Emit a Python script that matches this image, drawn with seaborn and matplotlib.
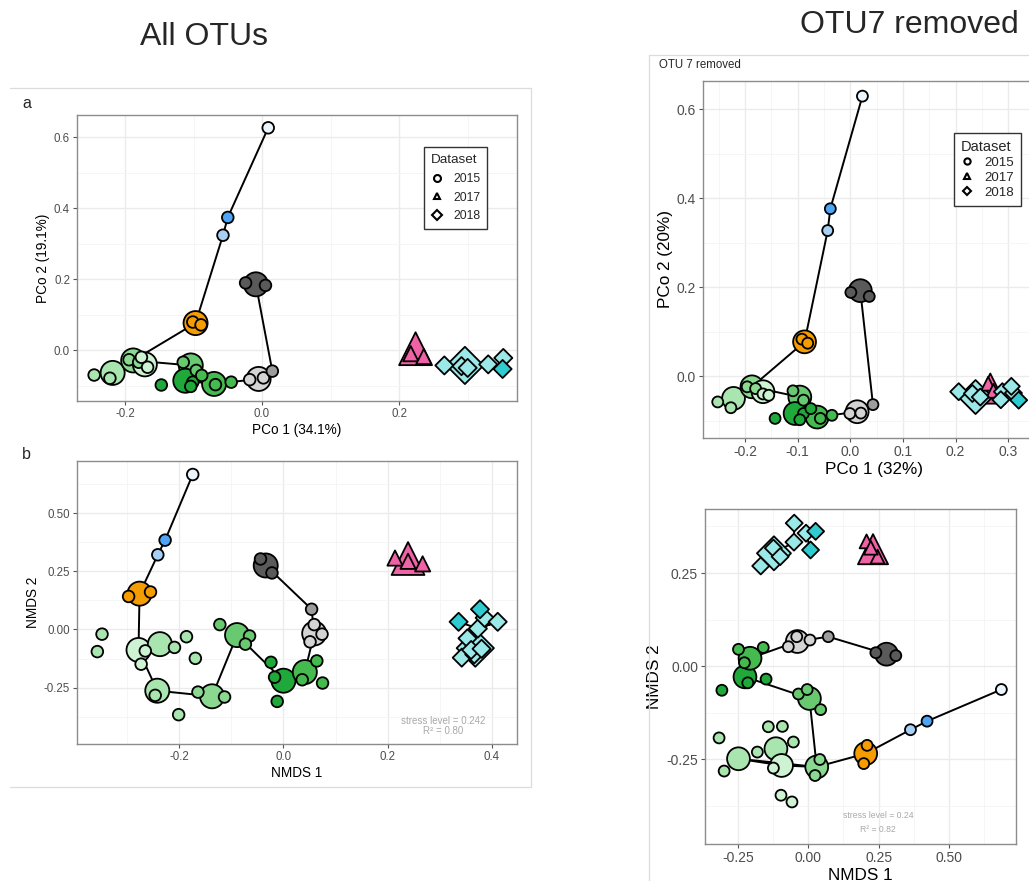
import numpy as np
import pandas as pd
import matplotlib
matplotlib.use("Agg")
import matplotlib.pyplot as plt
from matplotlib.lines import Line2D
from matplotlib.ticker import MultipleLocator, FormatStrFormatter
import seaborn as sns

W, H = 1029, 881

# colour for each sampling group (T = early times, G = greens, K = greys, P = 2017, C = 2018)
group_colors = {
    "T1": "#EAF5FD", "T2": "#4EA5F7", "T3": "#A7D0F5", "T4": "#F59D00",
    "G1": "#CDF3D2", "G2": "#A9E5AE", "G3": "#8BD891", "G4": "#69C970",
    "G5": "#44BA4F", "G6": "#1FA93A",
    "K1": "#D4D4D4", "K2": "#9C9C9C", "K3": "#5A5A5A",
    "P": "#F062A6", "C1": "#9BE8E8", "C2": "#2FCBD0",
}
dataset_levels = ["2015", "2017", "2018"]
dataset_markers = {"2015": "o", "2017": "^", "2018": "D"}

# ---------------- a: PCoA, all OTUs ----------------
a_grp = ["T1", "T2", "T3",
         "T4", "T4", "T4",
         "K3", "K3", "K3",
         "K1", "K1", "K1", "K2",
         "G2", "G2", "G2",
         "G3", "G3", "G3",
         "G1", "G1", "G1",
         "G4", "G4", "G4",
         "G6", "G6", "G6", "G6",
         "G5", "G5", "G5", "G5",
         "P", "P", "P",
         "C1", "C1", "C1", "C1", "C1", "C1", "C2"]
a_big = [0, 0, 0,
         1, 0, 0,
         1, 0, 0,
         1, 0, 0, 0,
         1, 0, 0,
         1, 0, 0,
         1, 0, 0,
         1, 0, 0,
         1, 0, 0, 0,
         1, 0, 0, 0,
         1, 0, 0,
         1, 0, 0, 0, 0, 0, 0]
a_x = [0.009, -0.050, -0.057,
       -0.097, -0.101, -0.089,
       -0.009, -0.024, 0.005,
       -0.005, -0.018, 0.002, 0.015,
       -0.218, -0.245, -0.222,
       -0.188, -0.194, -0.180,
       -0.171, -0.167, -0.176,
       -0.104, -0.115, -0.096,
       -0.112, -0.147, -0.101, -0.104,
       -0.070, -0.068, -0.045, -0.088,
       0.224, 0.217, 0.236,
       0.296, 0.266, 0.291, 0.300, 0.330, 0.352, 0.351]
a_y = [0.626, 0.374, 0.324,
       0.077, 0.080, 0.072,
       0.186, 0.190, 0.183,
       -0.080, -0.082, -0.077, -0.058,
       -0.063, -0.069, -0.078,
       -0.028, -0.026, -0.033,
       -0.039, -0.047, -0.019,
       -0.042, -0.033, -0.056,
       -0.085, -0.097, -0.089, -0.101,
       -0.094, -0.096, -0.089, -0.070,
       0.005, -0.009, -0.017,
       -0.042, -0.042, -0.044, -0.049, -0.039, -0.021, -0.052]
a_path_x = [0.009, -0.050, -0.057, -0.097, -0.188, -0.104, -0.112, -0.070, -0.005, 0.015, -0.009]
a_path_y = [0.626, 0.374, 0.324, 0.077, -0.028, -0.042, -0.085, -0.094, -0.080, -0.058, 0.186]
a_path_id = [0] * 11

# ---------------- b: NMDS, all OTUs ----------------
b_grp = ["T1", "T2", "T3",
         "T4", "T4", "T4",
         "K3", "K3", "K3",
         "K2",
         "K1", "K1", "K1", "K1",
         "G1", "G1", "G1",
         "G2", "G2", "G2", "G2", "G2", "G2",
         "G2", "G2", "G2",
         "G3", "G3", "G3",
         "G4", "G4", "G4", "G4",
         "G6", "G6", "G6", "G6",
         "G5", "G5", "G5", "G5",
         "P", "P", "P", "P",
         "C1", "C1", "C1", "C1", "C1", "C1", "C1", "C1", "C1",
         "C2", "C2"]
b_big = [0, 0, 0,
         1, 0, 0,
         1, 0, 0,
         0,
         1, 0, 0, 0,
         1, 0, 0,
         1, 0, 0, 0, 0, 0,
         1, 0, 0,
         1, 0, 0,
         1, 0, 0, 0,
         1, 0, 0, 0,
         1, 0, 0, 0,
         1, 0, 0, 0,
         1, 0, 0, 0, 0, 0, 0, 0, 0,
         0, 0]
b_x = [-0.174, -0.227, -0.241,
       -0.276, -0.297, -0.255,
       -0.034, -0.044, -0.022,
       0.054,
       0.059, 0.059, 0.074, 0.051,
       -0.278, -0.265, -0.273,
       -0.237, -0.209, -0.348, -0.357, -0.186, -0.169,
       -0.242, -0.246, -0.201,
       -0.137, -0.164, -0.113,
       -0.089, -0.122, -0.065, -0.073,
       0.000, -0.024, -0.017, -0.012,
       0.041, 0.064, 0.036, 0.075,
       0.239, 0.214, 0.267, 0.239,
       0.368, 0.342, 0.366, 0.373, 0.386, 0.411, 0.353, 0.360, 0.380,
       0.377, 0.336]
b_y = [0.666, 0.384, 0.321,
       0.154, 0.142, 0.161,
       0.275, 0.303, 0.243,
       0.087,
       -0.017, 0.021, -0.020, -0.053,
       -0.088, -0.092, -0.149,
       -0.063, -0.077, -0.020, -0.095, -0.031, -0.124,
       -0.263, -0.283, -0.366,
       -0.287, -0.269, -0.290,
       -0.024, 0.021, -0.028, -0.063,
       -0.220, -0.141, -0.205, -0.309,
       -0.183, -0.135, -0.216, -0.230,
       0.305, 0.307, 0.282, 0.293,
       -0.080, -0.121, -0.107, 0.004, 0.050, 0.033, -0.038, -0.088, -0.083,
       0.087, 0.033]
b_path_x = [-0.174, -0.227, -0.241, -0.276, -0.278, -0.242, -0.137, -0.089, 0.000, 0.041, 0.059, 0.054, -0.034,
            0.336, 0.373, 0.411, 0.373, 0.368]
b_path_y = [0.666, 0.384, 0.321, 0.154, -0.088, -0.263, -0.287, -0.024, -0.220, -0.183, -0.017, 0.087, 0.275,
            0.033, 0.004, 0.033, 0.004, -0.080]
b_path_id = [0] * 13 + [1] * 5

# ---------------- c: PCoA, OTU 7 removed ----------------
c_grp = ["T1", "T2", "T3",
         "T4", "T4", "T4",
         "K3", "K3", "K3",
         "K2",
         "K1", "K1", "K1",
         "G2", "G2", "G2",
         "G3", "G3", "G3",
         "G1", "G1", "G1",
         "G4", "G4", "G4",
         "G6", "G6", "G6", "G6", "G6",
         "G5", "G5", "G5",
         "P", "P", "P",
         "C1", "C1", "C1", "C1", "C1", "C1", "C1", "C1",
         "C2"]
c_big = [0, 0, 0,
         1, 0, 0,
         1, 0, 0,
         0,
         1, 0, 0,
         1, 0, 0,
         1, 0, 0,
         1, 0, 0,
         1, 0, 0,
         1, 0, 0, 0, 0,
         1, 0, 0,
         1, 0, 0,
         1, 0, 0, 0, 0, 0, 0, 0,
         0]
c_x = [0.023, -0.038, -0.043,
       -0.087, -0.092, -0.081,
       0.019, 0.001, 0.036,
       0.043,
       0.013, -0.001, 0.020,
       -0.222, -0.252, -0.227,
       -0.187, -0.196, -0.180,
       -0.166, -0.166, -0.155,
       -0.096, -0.109, -0.089,
       -0.105, -0.143, -0.089, -0.075, -0.096,
       -0.063, -0.057, -0.035,
       0.266, 0.262, 0.272,
       0.238, 0.206, 0.232, 0.247, 0.289, 0.286, 0.310, 0.306,
       0.320]
c_y = [0.629, 0.376, 0.327,
       0.077, 0.083, 0.074,
       0.192, 0.188, 0.179,
       -0.064,
       -0.080, -0.084, -0.083,
       -0.050, -0.058, -0.071,
       -0.024, -0.024, -0.028,
       -0.035, -0.040, -0.043,
       -0.047, -0.033, -0.054,
       -0.084, -0.095, -0.084, -0.073, -0.098,
       -0.092, -0.095, -0.088,
       -0.028, -0.017, -0.033,
       -0.047, -0.035, -0.039, -0.047, -0.035, -0.053, -0.038, -0.023,
       -0.054]
c_path_x = [0.023, -0.038, -0.043, -0.087, -0.187, -0.096, -0.105, -0.063, 0.013, 0.043, 0.019]
c_path_y = [0.629, 0.376, 0.327, 0.077, -0.024, -0.047, -0.084, -0.092, -0.080, -0.064, 0.192]
c_path_id = [0] * 11

# ---------------- d: NMDS, OTU 7 removed ----------------
d_grp = ["T1", "T2", "T3",
         "T4", "T4", "T4",
         "K3", "K3", "K3",
         "K2",
         "K1", "K1", "K1", "K1",
         "G6", "G6", "G6", "G6",
         "G5", "G5", "G5", "G5",
         "G4", "G4", "G4", "G4",
         "G3", "G3", "G3",
         "G2", "G2", "G2",
         "G2", "G2", "G2", "G2", "G2",
         "G1", "G1", "G1", "G1",
         "P", "P", "P", "P",
         "C1", "C1", "C1", "C1", "C1", "C1", "C1",
         "C2", "C2"]
d_big = [0, 0, 0,
         1, 0, 0,
         1, 0, 0,
         0,
         1, 0, 0, 0,
         1, 0, 0, 0,
         1, 0, 0, 0,
         1, 0, 0, 0,
         1, 0, 0,
         1, 0, 0,
         1, 0, 0, 0, 0,
         1, 0, 0, 0,
         1, 0, 0, 0,
         1, 0, 0, 0, 0, 0, 0,
         0, 0]
d_x = [0.686, 0.422, 0.363,
       0.204, 0.209, 0.197,
       0.278, 0.240, 0.311,
       0.071,
       -0.039, -0.071, 0.006, -0.041,
       -0.225, -0.307, -0.215, -0.150,
       -0.207, -0.248, -0.160, -0.227,
       0.004, -0.035, -0.004, 0.044,
       0.030, 0.041, 0.024,
       -0.248, -0.299, -0.181,
       -0.115, -0.142, -0.092, -0.053, -0.317,
       -0.095, -0.124, -0.097, -0.058,
       0.230, 0.207, 0.246, 0.222,
       -0.122, -0.169, -0.124, -0.100, -0.051, -0.050, -0.008,
       0.026, 0.008]
d_y = [-0.063, -0.148, -0.171,
       -0.235, -0.213, -0.262,
       0.032, 0.036, 0.028,
       0.079,
       0.066, 0.052, 0.070, 0.079,
       -0.029, -0.065, -0.045, -0.035,
       0.021, 0.045, 0.050, 0.009,
       -0.087, -0.075, -0.063, -0.117,
       -0.271, -0.251, -0.294,
       -0.249, -0.282, -0.231,
       -0.222, -0.163, -0.162, -0.204, -0.193,
       -0.267, -0.274, -0.347, -0.365,
       0.314, 0.335, 0.294, 0.318,
       0.303, 0.269, 0.317, 0.294, 0.333, 0.384, 0.357,
       0.362, 0.312]
d_path_x = [0.686, 0.422, 0.363, 0.204, 0.030, -0.095, -0.248, 0.030, 0.004, -0.225, -0.207, -0.039, 0.071, 0.278,
            -0.169, -0.122, -0.051, -0.050,
            0.008, -0.008, 0.026]
d_path_y = [-0.063, -0.148, -0.171, -0.235, -0.271, -0.267, -0.249, -0.271, -0.087, -0.029, 0.021, 0.066, 0.079, 0.032,
            0.269, 0.303, 0.333, 0.384,
            0.312, 0.357, 0.362]
d_path_id = [0] * 14 + [1] * 4 + [2] * 3

sns.set_theme(style="white")
plt.rcParams["font.family"] = ["Liberation Sans", "DejaVu Sans"]


def box(x0, y0, x1, y1):
    return [x0 / W, 1 - y1 / H, (x1 - x0) / W, (y1 - y0) / H]


def draw_points(ax, xs, ys, grps, bigs, px, py, pid, sizes):
    df = pd.DataFrame({"x": xs, "y": ys, "grp": grps, "big": bigs})
    df["Dataset"] = df["grp"].map(lambda g: "2017" if g == "P" else ("2018" if g.startswith("C") else "2015"))
    df["kind"] = np.where(df["big"] == 1, "L", "S") + df["Dataset"]
    df = df.sort_values("big", ascending=False, kind="stable")
    path = pd.DataFrame({"x": px, "y": py, "id": pid})
    sns.lineplot(data=path, x="x", y="y", units="id", estimator=None, sort=False,
                 color="black", linewidth=1.4, legend=False, ax=ax, zorder=2)
    sns.scatterplot(data=df, x="x", y="y", hue="grp", palette=group_colors,
                    style="Dataset", markers=dataset_markers, size="kind", sizes=sizes,
                    edgecolor="black", linewidth=1.3, legend=False, ax=ax, zorder=3)


def style_axes(ax, xlim, ylim, xmaj, ymaj, fmtx, fmty, xlabel, ylabel, tick_fs, lab_fs):
    ax.set_xlim(xlim)
    ax.set_ylim(ylim)
    ax.xaxis.set_major_locator(MultipleLocator(xmaj))
    ax.xaxis.set_minor_locator(MultipleLocator(xmaj / 2))
    ax.yaxis.set_major_locator(MultipleLocator(ymaj))
    ax.yaxis.set_minor_locator(MultipleLocator(ymaj / 2))
    ax.xaxis.set_major_formatter(FormatStrFormatter(fmtx))
    ax.yaxis.set_major_formatter(FormatStrFormatter(fmty))
    ax.grid(which="major", color="#EBEBEB", linewidth=1.0)
    ax.grid(which="minor", color="#F4F4F4", linewidth=0.6)
    ax.set_axisbelow(True)
    for s in ax.spines.values():
        s.set_color("#8C8C8C")
        s.set_linewidth(1.0)
    ax.tick_params(which="major", length=3, width=0.8, color="#555555",
                   labelsize=tick_fs, labelcolor="#4D4D4D", pad=2, bottom=True, left=True)
    ax.tick_params(which="minor", length=0)
    ax.set_xlabel(xlabel, fontsize=lab_fs, color="black", labelpad=2)
    ax.set_ylabel(ylabel, fontsize=lab_fs, color="black", labelpad=3)


def add_legend(ax, anchor, fs, ms, spacing, pad):
    handles = [Line2D([], [], marker=dataset_markers[d], linestyle="", markerfacecolor="white",
                      markeredgecolor="black", markeredgewidth=1.5, markersize=ms)
               for d in dataset_levels]
    leg = ax.legend(handles, dataset_levels, title="Dataset", loc="upper left",
                    bbox_to_anchor=anchor, bbox_transform=ax.figure.transFigure,
                    fontsize=fs, title_fontsize=fs + 1, frameon=True, fancybox=False,
                    edgecolor="#333333", framealpha=1, handlelength=1.0, handletextpad=0.8,
                    labelspacing=spacing, borderpad=pad, borderaxespad=0)
    leg.get_frame().set_linewidth(1.0)
    leg._legend_box.align = "left"


fig = plt.figure(figsize=(W / 100, H / 100), dpi=100)

left_sizes = {"L2015": 300, "S2015": 70, "L2017": 560, "S2017": 120, "L2018": 360, "S2018": 85}
right_sizes = {"L2015": 270, "S2015": 62, "L2017": 470, "S2017": 100, "L2018": 300, "S2018": 75}

ax_a = fig.add_axes(box(77, 115, 517, 401))
draw_points(ax_a, a_x, a_y, a_grp, a_big, a_path_x, a_path_y, a_path_id, left_sizes)
style_axes(ax_a, (-0.27, 0.372), (-0.142, 0.662), 0.2, 0.2, "%.1f", "%.1f",
           "PCo 1 (34.1%)", "PCo 2 (19.1%)", 8.3, 9.8)
add_legend(ax_a, (424 / W, 1 - 147 / H), 8.7, 5, 0.55, 0.6)

ax_b = fig.add_axes(box(77, 461, 517, 744))
draw_points(ax_b, b_x, b_y, b_grp, b_big, b_path_x, b_path_y, b_path_id, left_sizes)
style_axes(ax_b, (-0.396, 0.448), (-0.492, 0.724), 0.2, 0.25, "%.1f", "%.2f",
           "NMDS 1", "NMDS 2", 8.3, 9.8)

ax_c = fig.add_axes(box(703, 81, 1045, 438))
draw_points(ax_c, c_x, c_y, c_grp, c_big, c_path_x, c_path_y, c_path_id, right_sizes)
style_axes(ax_c, (-0.280, 0.370), (-0.139, 0.663), 0.1, 0.2, "%.1f", "%.1f",
           "PCo 1 (32%)", "PCo 2 (20%)", 10, 12.3)
add_legend(ax_c, (954 / W, 1 - 133 / H), 9.5, 4.5, 0.22, 0.5)

ax_d = fig.add_axes(box(705, 509, 1016, 844))
draw_points(ax_d, d_x, d_y, d_grp, d_big, d_path_x, d_path_y, d_path_id, right_sizes)
style_axes(ax_d, (-0.367, 0.738), (-0.478, 0.422), 0.25, 0.25, "%.2f", "%.2f",
           "NMDS 1", "NMDS 2", 10, 12.3)

# stress annotations
fig.text(443 / W, 1 - 721 / H, "stress level = 0.242", ha="center", va="center", fontsize=7, color="#A8A8A8")
fig.text(443 / W, 1 - 731 / H, "R² = 0.80", ha="center", va="center", fontsize=7, color="#A8A8A8")
fig.text(878 / W, 1 - 815 / H, "stress level = 0.24", ha="center", va="center", fontsize=6.2, color="#A8A8A8")
fig.text(878 / W, 1 - 830 / H, "R² = 0.82", ha="center", va="center", fontsize=6.2, color="#A8A8A8")

# titles and panel tags
fig.text(204 / W, 1 - 37 / H, "All OTUs", ha="center", va="center", fontsize=23)
fig.text(909 / W, 1 - 25 / H, "OTU7 removed", ha="center", va="center", fontsize=23)
fig.text(659 / W, 1 - 65 / H, "OTU 7 removed", ha="left", va="center", fontsize=8.3)
fig.text(22 / W, 1 - 103 / H, "a", ha="left", va="center", fontsize=11.5)
fig.text(22 / W, 1 - 455 / H, "b", ha="left", va="center", fontsize=11.5)

# thin frames around the two halves
frame = "#DCDCDC"
for xs, ys in [((10, 531), (88, 88)), ((531, 531), (88, 787)), ((10, 531), (787, 787)),
               ((649, 1029), (55, 55)), ((649, 649), (55, 881))]:
    fig.add_artist(Line2D([x / W for x in xs], [1 - y / H for y in ys],
                          transform=fig.transFigure, color=frame, linewidth=0.9))

fig.savefig("out.png", dpi=100)
